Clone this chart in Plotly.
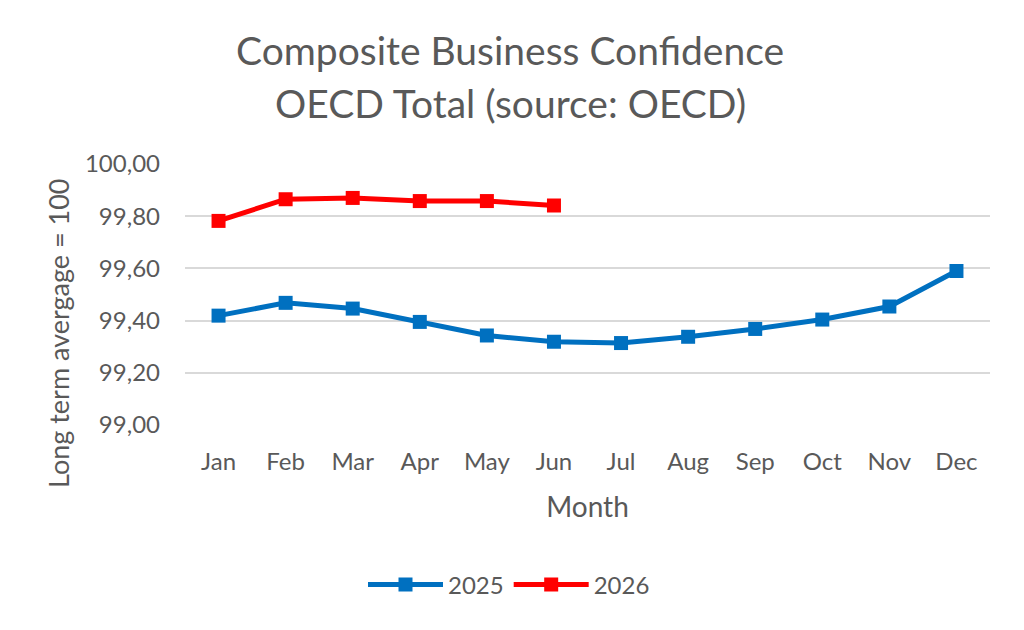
import plotly.graph_objects as go

months = ["Jan", "Feb", "Mar", "Apr", "May", "Jun", "Jul", "Aug", "Sep", "Oct", "Nov", "Dec"]
values_2025 = [99.419, 99.468, 99.446, 99.395, 99.343, 99.319, 99.314, 99.338, 99.368, 99.404, 99.454, 99.590]
months_2026 = ["Jan", "Feb", "Mar", "Apr", "May", "Jun"]
values_2026 = [99.782, 99.865, 99.870, 99.858, 99.858, 99.841]
y_ticks = [99.0, 99.2, 99.4, 99.6, 99.8, 100.0]

FONT = "Lato"
GREY = "#595959"

fig = go.Figure()
fig.add_trace(go.Scatter(x=months, y=values_2025, name="2025", mode="lines+markers",
                         line=dict(color="#0070C0", width=5),
                         marker=dict(symbol="square", size=14, color="#0070C0")))
fig.add_trace(go.Scatter(x=months_2026, y=values_2026, name="2026", mode="lines+markers",
                         line=dict(color="#FF0000", width=5),
                         marker=dict(symbol="square", size=14, color="#FF0000")))

L, R, T, B = 185, 34, 164, 205
W, H = 1024, 630
pw, ph = W - L - R, H - T - B

def px_x(x):
    return (x - L) / pw

def px_y(y):
    return (H - B - y) / ph

fig.update_layout(
    width=W, height=H,
    margin=dict(l=L, r=R, t=T, b=B),
    paper_bgcolor="white", plot_bgcolor="white",
    separators=",.",
    font=dict(family=FONT, color=GREY, size=20),
    showlegend=True,
    legend=dict(orientation="h", x=px_x(509), y=px_y(585), xanchor="center", yanchor="middle",
                font=dict(size=24, color=GREY), itemwidth=75),
    xaxis=dict(type="category", categoryorder="array", categoryarray=months,
               range=[-0.5, 11.5], showgrid=False, showline=False, zeroline=False,
               ticks="", tickfont=dict(size=24, color=GREY), ticklabelstandoff=20,
               title=dict(text="Month", font=dict(size=28, color=GREY), standoff=23)),
    yaxis=dict(range=[99.0, 100.0], tickvals=y_ticks, tickformat=".2f",
               showgrid=True, gridcolor="#D9D9D9", gridwidth=1.5, zeroline=False,
               showline=False, ticks="", tickfont=dict(size=24, color=GREY),
               ticklabelstandoff=24),
    annotations=[
        dict(text="Composite Business Confidence", xref="paper", yref="paper",
             x=px_x(510), y=px_y(50), xanchor="center", yanchor="middle",
             showarrow=False, font=dict(size=39, color=GREY)),
        dict(text="OECD Total (source: OECD)", xref="paper", yref="paper",
             x=px_x(510), y=px_y(103), xanchor="center", yanchor="middle",
             showarrow=False, font=dict(size=39, color=GREY)),
        dict(text="Long term avergage = 100", xref="paper", yref="paper",
             x=px_x(58), y=px_y(333), xanchor="center", yanchor="middle",
             textangle=-90, showarrow=False, font=dict(size=27, color=GREY)),
    ],
)

fig.write_html("out.html")
